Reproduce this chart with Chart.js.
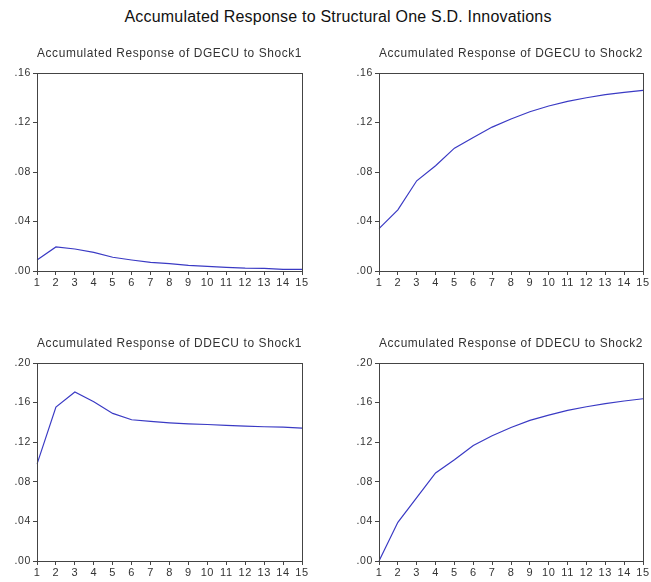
<!DOCTYPE html>
<html>
<head>
<meta charset="utf-8">
<script src="https://cdn.jsdelivr.net/npm/chart.js@4.4.1/dist/chart.umd.min.js"></script>
<style>
  body { margin: 0; background: #fff; width: 651px; height: 582px; position: relative; overflow: hidden; }
  #title { position: absolute; top: 8px; left: 0; width: 676px; text-align: center; letter-spacing: 0.2px;
           font: 16px "Liberation Sans", Arial, sans-serif; color: #111; }
  .panel { position: absolute; }
</style>
</head>
<body>
<div id="title">Accumulated Response to Structural One S.D. Innovations</div>
<canvas class="panel" id="p1" width="320" height="252" style="left:0;top:40px"></canvas>
<canvas class="panel" id="p2" width="309" height="252" style="left:342px;top:40px"></canvas>
<canvas class="panel" id="p3" width="320" height="252" style="left:0;top:330px"></canvas>
<canvas class="panel" id="p4" width="309" height="252" style="left:342px;top:330px"></canvas>
<script>
var periods = ['1','2','3','4','5','6','7','8','9','10','11','12','13','14','15'];

var dgecu_shock1 = [0.0089, 0.0194, 0.0178, 0.0151, 0.0111, 0.0089, 0.0070, 0.0059, 0.0046, 0.0038, 0.0030, 0.0024, 0.0022, 0.0013, 0.0013];
var dgecu_shock2 = [0.0343, 0.0494, 0.0729, 0.0850, 0.0993, 0.1079, 0.1163, 0.1228, 0.1287, 0.1333, 0.1371, 0.1400, 0.1425, 0.1443, 0.1460];
var ddecu_shock1 = [0.0978, 0.1555, 0.1707, 0.1609, 0.1491, 0.1427, 0.1410, 0.1396, 0.1386, 0.1379, 0.1369, 0.1363, 0.1356, 0.1352, 0.1342];
var ddecu_shock2 = [0.0000, 0.0391, 0.0641, 0.0890, 0.1022, 0.1167, 0.1265, 0.1349, 0.1420, 0.1474, 0.1521, 0.1558, 0.1589, 0.1616, 0.1639];

var fontFamily = '"Liberation Sans", Arial, sans-serif';

// box around the plot area, like the eviews frame
// (also widens the letter spacing of the text a little)
var frame = {
    id: 'frame',
    beforeDraw: function(chart) {
        chart.ctx.letterSpacing = '0.6px';
    },
    afterDraw: function(chart) {
        var a = chart.chartArea, ctx = chart.ctx;
        ctx.save();
        ctx.strokeStyle = '#444';
        ctx.lineWidth = 1;
        ctx.strokeRect(Math.round(a.left) + 0.5, Math.round(a.top) + 0.5,
                       Math.round(a.right - a.left), Math.round(a.bottom - a.top));
        ctx.restore();
    }
};

function makePanel(id, title, values, ymax, rightPad) {
    var ctx = document.getElementById(id).getContext('2d');
    return new Chart(ctx, {
        type: 'line',
        data: {
            labels: periods,
            datasets: [{
                data: values,
                borderColor: '#3a3ac4',
                borderWidth: 1.2,
                pointRadius: 0,
                tension: 0,
                fill: false
            }]
        },
        options: {
            responsive: false,
            animation: false,
            layout: { padding: { top: 0, left: 0, right: rightPad, bottom: 0 } },
            plugins: {
                legend: { display: false },
                tooltip: { enabled: false },
                title: {
                    display: true,
                    text: title,
                    fullSize: false,
                    color: '#333',
                    font: { family: fontFamily, size: 12, weight: 'normal' },
                    padding: { top: 6.5, bottom: 12.1 }
                }
            },
            scales: {
                x: {
                    offset: false,
                    grid: { drawOnChartArea: false, drawTicks: true, tickLength: 4, color: '#444' },
                    border: { display: true, color: '#444' },
                    ticks: { color: '#333', padding: 1, maxRotation: 0, autoSkip: false,
                             font: { family: fontFamily, size: 11 } },
                    afterFit: function(s) { s.height = 21; }
                },
                y: {
                    min: 0,
                    max: ymax,
                    grid: { drawOnChartArea: false, drawTicks: true, tickLength: 4, color: '#444' },
                    border: { display: true, color: '#444' },
                    ticks: {
                        stepSize: 0.04,
                        color: '#333',
                        padding: 2,
                        font: { family: fontFamily, size: 10.5 },
                        callback: function(v) { return v.toFixed(2).replace('0.', '.'); }
                    },
                    afterFit: function(s) { s.width = 37; }
                }
            }
        },
        plugins: [frame]
    });
}

makePanel('p1', 'Accumulated Response of DGECU to Shock1', dgecu_shock1, 0.16, 18);
makePanel('p2', 'Accumulated Response of DGECU to Shock2', dgecu_shock2, 0.16, 8);
makePanel('p3', 'Accumulated Response of DDECU to Shock1', ddecu_shock1, 0.20, 18);
makePanel('p4', 'Accumulated Response of DDECU to Shock2', ddecu_shock2, 0.20, 8);
</script>
</body>
</html>
